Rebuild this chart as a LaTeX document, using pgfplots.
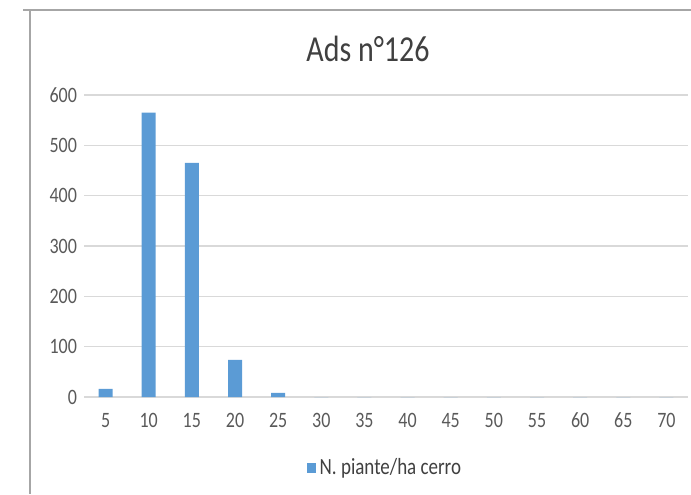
\documentclass[border=0pt]{standalone}
\usepackage{pgfplots}
\pgfplotsset{compat=1.18}
\usepackage{fontspec}
\setmainfont{Carlito}
\definecolor{barblue}{HTML}{5B9BD5}
\definecolor{txtgray}{HTML}{595959}
\definecolor{titlegray}{HTML}{404040}
\definecolor{gridgray}{HTML}{D9D9D9}
\definecolor{framegray}{HTML}{A6A6A6}
\newcommand{\tall}[1]{\scalebox{1}[1.22]{#1}}
\begin{document}
\begin{tikzpicture}
% picture area: 691x494 px at 0.5pt per px
\useasboundingbox (0,0) rectangle (345.5pt,247pt);
\draw[framegray, line width=0.8pt] (11.5pt,242pt) -- (345.5pt,242pt);
\draw[framegray, line width=0.8pt] (15pt,242pt) -- (15pt,0pt);
\node[titlegray, font=\fontsize{15}{18}\selectfont] at (184pt,222.5pt) {\tall{Ads n°126}};
\begin{axis}[
  at={(42pt,48.5pt)}, anchor=south west,
  scale only axis,
  width=302pt, height=151pt,
  xmin=2.5, xmax=72.5,
  ymin=0, ymax=600,
  xtick={5,10,...,70},
  ytick={0,100,...,600},
  xticklabel={\tall{\pgfmathprintnumber{\tick}}},
  yticklabel={\tall{\pgfmathprintnumber{\tick}}},
  ymajorgrids=true,
  grid style={gridgray, line width=0.6pt},
  axis line style={draw=none},
  axis x line*=bottom,
  x axis line style={draw=gridgray, line width=0.6pt},
  major tick length=0pt,
  tick label style={txtgray, font=\fontsize{9}{11}\selectfont},
  /pgf/number format/assume math mode=true,
  xticklabel style={yshift=-4.5pt},
  legend style={at={(0.5,-0.235)}, anchor=center, draw=none,
    font=\fontsize{9.5}{11}\selectfont, text=titlegray},
  legend image code/.code={\fill[barblue] (0pt,-2.4pt) rectangle (4.4pt,2.6pt);},
]
\addplot[ybar, bar width=7pt, fill=barblue, draw=none]
coordinates{
  (5,16)
  (10,565)
  (15,465)
  (20,74)
  (25,8)
  (30,0)
  (35,0)
  (40,0)
  (45,0)
  (50,0)
  (55,0)
  (60,0)
  (65,0)
  (70,0)
};
\addlegendentry{\tall{N. piante/ha cerro}}
\end{axis}
\end{tikzpicture}
\end{document}
